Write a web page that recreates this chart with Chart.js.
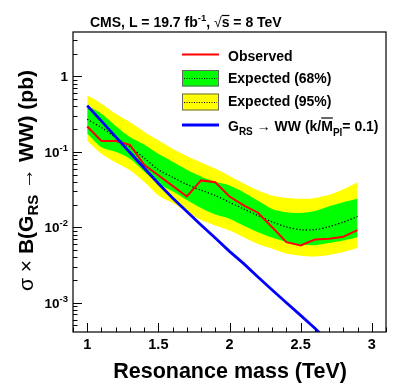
<!DOCTYPE html>
<html><head><meta charset="utf-8">
<script src="https://cdn.jsdelivr.net/npm/chart.js@4.4.0/dist/chart.umd.min.js"></script>
<style>html,body{margin:0;padding:0;background:#fff;}#wrap{width:407px;height:391px;}</style>
</head><body><div id="wrap"><canvas id="c" width="407" height="391"></canvas></div>
<script>
// ---- data ----
const masses = [1.0,1.1,1.2,1.3,1.4,1.5,1.6,1.7,1.8,1.9,2.0,2.1,2.2,2.3,2.4,2.5,2.6,2.7,2.8,2.9];
const observed = [0.217,0.139,0.139,0.124,0.0675,0.049,0.0354,0.0256,0.0418,0.0396,0.0256,0.0195,0.0156,0.0100,0.00635,0.00575,0.0069,0.00703,0.0075,0.0092];
const expected = [0.27,0.21,0.155,0.116,0.083,0.058,0.046,0.037,0.031,0.0264,0.0215,0.0175,0.0143,0.0118,0.0101,0.0093,0.0093,0.0102,0.0117,0.0139];
const exp68Up = [0.41,0.32,0.22,0.157,0.125,0.094,0.074,0.058,0.047,0.040,0.0358,0.029,0.0225,0.0175,0.0158,0.0155,0.0165,0.019,0.0215,0.0239];
const exp68Down = [0.175,0.115,0.10,0.081,0.055,0.038,0.030,0.023,0.018,0.0148,0.013,0.0105,0.0086,0.0073,0.0064,0.0059,0.0058,0.0062,0.0067,0.0074];
const exp95Up = [0.56,0.435,0.32,0.248,0.185,0.142,0.11,0.088,0.072,0.06,0.048,0.038,0.031,0.0264,0.0245,0.0239,0.0245,0.027,0.032,0.0396];
const exp95Down = [0.14,0.094,0.072,0.057,0.040,0.0264,0.021,0.016,0.0125,0.0106,0.0091,0.0074,0.006,0.0052,0.0045,0.0042,0.0041,0.0043,0.0047,0.0053];
const gravMass = [1.0,1.1,1.2,1.3,1.4,1.5,1.6,1.7,1.8,1.9,2.0,2.1,2.2,2.3,2.4,2.5,2.6,2.7];
const graviton = [0.41,0.255,0.158,0.098,0.061,0.038,0.0245,0.0162,0.0107,0.0072,0.0048,0.0033,0.0022,0.00148,0.001,0.00068,0.00046,0.0003];
const xTickValues = [1,1.5,2,2.5,3];
const xTickLabels = ['1','1.5','2','2.5','3'];
const yTickValues = [1,0.1,0.01,0.001];
const yTickBase = ['1','10','10','10'];
const yTickExp = ['','-1','-2','-3'];

const pts = (xs, ys) => xs.map((x,i)=>({x:x,y:ys[i]}));
const B = 'bold ';
const FF = '"Liberation Sans", Arial, Helvetica, sans-serif';

function richWidth(ctx, parts){
  let w=0; for(const p of parts){ctx.font=p.font; w+=ctx.measureText(p.t).width;} return w;
}
function drawRich(ctx, parts, x, y, align){
  let w = richWidth(ctx, parts);
  let cx = align==='right' ? x-w : (align==='center'? x-w/2 : x);
  ctx.textBaseline='alphabetic'; ctx.textAlign='left';
  for(const p of parts){
    ctx.font=p.font; const pw=ctx.measureText(p.t).width;
    ctx.fillStyle='#000';
    ctx.fillText(p.t, cx, y+(p.dy||0));
    if(p.over){
      ctx.beginPath(); ctx.lineWidth=1.2; ctx.strokeStyle='#000';
      const oy = y+(p.dy||0)-p.over;
      ctx.moveTo(cx+(p.ox||0), oy); ctx.lineTo(cx+pw, oy); ctx.stroke();
    }
    cx+=pw;
  }
}

const decor = {
  id:'decor',
  afterDraw(chart){
    const ctx=chart.ctx, a=chart.chartArea, xs=chart.scales.x, ys=chart.scales.y;
    ctx.save();
    // frame
    ctx.strokeStyle='#000'; ctx.lineWidth=1.2;
    ctx.strokeRect(a.left, a.top, a.right-a.left, a.bottom-a.top);
    // x ticks (inside)
    ctx.lineWidth=1;
    for(let k=9;k<=31;k++){
      const v=k/10; const px=Math.round(xs.getPixelForValue(v))+0.5;
      const major = (k%5===0);
      ctx.beginPath(); ctx.moveTo(px,a.bottom); ctx.lineTo(px,a.bottom-(major?9:4.5)); ctx.stroke();
    }
    // y ticks (inside)
    for(let e=-4;e<=0;e++){
      for(let m=1;m<=9;m++){
        const v=m*Math.pow(10,e);
        if(v<ys.min||v>ys.max) continue;
        const py=Math.round(ys.getPixelForValue(v))+0.5;
        ctx.beginPath(); ctx.moveTo(a.left,py); ctx.lineTo(a.left+(m===1?9:4.5),py); ctx.stroke();
      }
    }
    // x tick labels
    ctx.fillStyle='#000'; ctx.font=B+'14.5px '+FF; ctx.textAlign='center'; ctx.textBaseline='alphabetic';
    xTickValues.forEach((v,i)=>{ ctx.fillText(xTickLabels[i], xs.getPixelForValue(v), a.bottom+17); });
    // y tick labels
    yTickValues.forEach((v,i)=>{
      const py=ys.getPixelForValue(v);
      const parts=[{t:yTickBase[i],font:B+'13.5px '+FF}];
      if(yTickExp[i]) parts.push({t:yTickExp[i],font:B+'9.5px '+FF,dy:-6});
      drawRich(ctx, parts, 68, py+5, 'right');
    });
    // title
    drawRich(ctx,[
      {t:'CMS, L = 19.7 fb',font:B+'14px '+FF},
      {t:'-1',font:B+'9.5px '+FF,dy:-6},
      {t:', ',font:B+'14px '+FF},
      {t:'\u221A',font:'14px '+FF},
      {t:'s',font:B+'14px '+FF,over:11.5},
      {t:' = 8 TeV',font:B+'14px '+FF}
    ], 90, 27, 'left');
    // x title
    drawRich(ctx,[{t:'Resonance mass (TeV)',font:B+'21.5px '+FF}], 347, 378, 'right');
    // y title (rotated)
    ctx.save(); ctx.translate(33,70); ctx.rotate(-Math.PI/2);
    drawRich(ctx,[
      {t:'\u03C3 \u00D7 ',font:'21px '+FF},
      {t:'B(G',font:B+'21px '+FF},
      {t:'RS',font:B+'15px '+FF,dy:5},
      {t:' \u2192 ',font:'21px '+FF},
      {t:'WW) (pb)',font:B+'21px '+FF}
    ], 0, 0, 'right');
    ctx.restore();
    // legend
    const lx0=182, lx1=219, tx=228;
    ctx.lineWidth=2; ctx.strokeStyle='#ff0000';
    ctx.beginPath(); ctx.moveTo(lx0,54.5); ctx.lineTo(lx1,54.5); ctx.stroke();
    drawRich(ctx,[{t:'Observed',font:B+'14px '+FF}], tx, 60.5, 'left');
    const boxes=[[70,86.5,'#00ff00','Expected (68%)',83],[93.5,110.5,'#ffff00','Expected (95%)',106]];
    for(const b of boxes){
      ctx.fillStyle=b[2]; ctx.fillRect(lx0,b[0],lx1-lx0,b[1]-b[0]);
      ctx.strokeStyle='#666'; ctx.lineWidth=1; ctx.setLineDash([]);
      ctx.strokeRect(lx0+0.5,b[0]+0.5,lx1-lx0-1,b[1]-b[0]-1);
      ctx.strokeStyle='#000'; ctx.setLineDash([1,1.5]);
      const my=Math.round((b[0]+b[1])/2)+0.5;
      ctx.beginPath(); ctx.moveTo(lx0+2,my); ctx.lineTo(lx1-2,my); ctx.stroke();
      ctx.setLineDash([]);
      drawRich(ctx,[{t:b[3],font:B+'14px '+FF}], tx, b[4], 'left');
    }
    ctx.lineWidth=3; ctx.strokeStyle='#0000ff';
    ctx.beginPath(); ctx.moveTo(lx0,125); ctx.lineTo(lx1,125); ctx.stroke();
    drawRich(ctx,[
      {t:'G',font:B+'14px '+FF},
      {t:'RS',font:B+'10px '+FF,dy:4},
      {t:' \u2192 ',font:'14px '+FF},
      {t:'WW (k/',font:B+'14px '+FF},
      {t:'M',font:B+'14px '+FF,over:12.5},
      {t:'Pl',font:B+'10px '+FF,dy:5},
      {t:'= 0.1)',font:B+'14px '+FF}
    ], tx, 130.5, 'left');
    ctx.restore();
  }
};

new Chart(document.getElementById('c'), {
  type:'line',
  data:{datasets:[
    {data:pts(masses,exp95Up), fill:'+1', backgroundColor:'#ffff00', borderWidth:0, pointRadius:0, order:6, tension:0.3},
    {data:pts(masses,exp95Down), fill:false, borderWidth:0, pointRadius:0, order:6, tension:0.3},
    {data:pts(masses,exp68Up), fill:'+1', backgroundColor:'#00ff00', borderWidth:0, pointRadius:0, order:4, tension:0.3},
    {data:pts(masses,exp68Down), fill:false, borderWidth:0, pointRadius:0, order:4, tension:0.3},
    {data:pts(masses,expected), fill:false, borderColor:'#000', borderWidth:1.3, borderDash:[1.3,2], pointRadius:0, order:2, tension:0.3},
    {data:pts(masses,observed), fill:false, borderColor:'#ff0000', borderWidth:2, pointRadius:0, order:1, tension:0},
    {data:pts(gravMass,graviton), fill:false, borderColor:'#0000ff', borderWidth:2.8, pointRadius:0, order:0, tension:0}
  ]},
  options:{
    responsive:false, animation:false, devicePixelRatio:1,
    layout:{padding:{left:73,right:21,top:32,bottom:59}},
    plugins:{legend:{display:false}, tooltip:{enabled:false}, title:{display:false}},
    scales:{
      x:{type:'linear', min:0.9, max:3.1, ticks:{display:false}, grid:{display:false}, border:{display:false},
         afterFit(s){s.height=0;}},
      y:{type:'logarithmic', min:4.1e-4, max:3.87, ticks:{display:false}, grid:{display:false}, border:{display:false},
         afterFit(s){s.width=0;}}
    }
  },
  plugins:[decor]
});
</script></body></html>
